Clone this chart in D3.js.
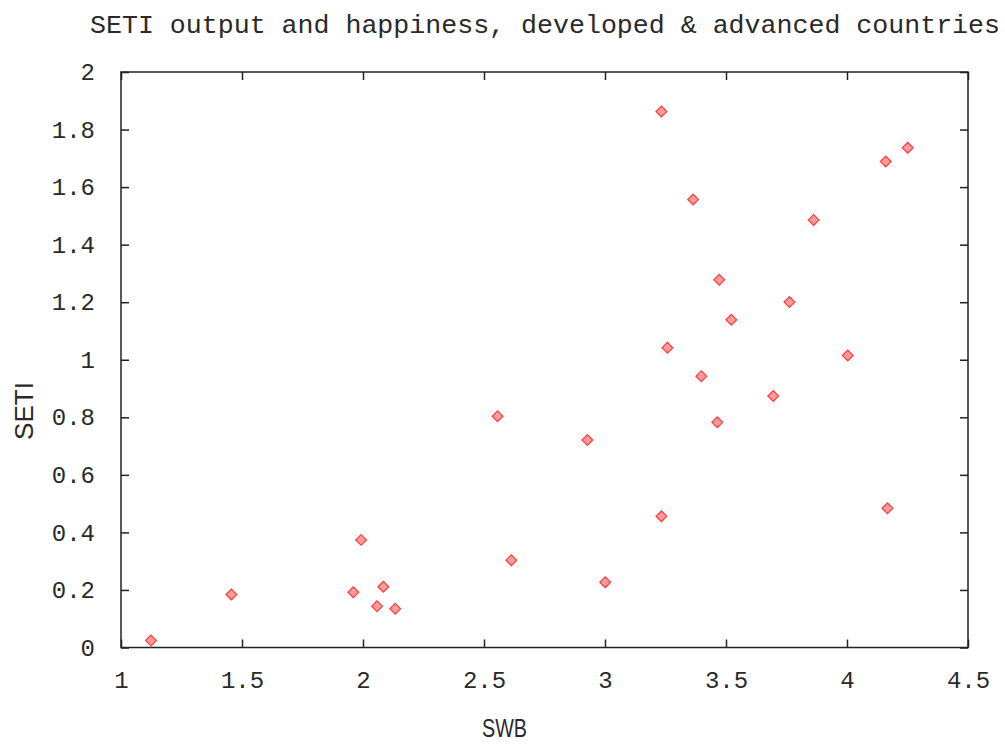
<!DOCTYPE html>
<html>
<head>
<meta charset="utf-8">
<script src="https://cdn.jsdelivr.net/npm/d3@7"></script>
<style>
  html, body { margin: 0; padding: 0; background: #fff; }
  svg { display: block; }
</style>
</head>
<body>
<svg id="chart" width="1005" height="744"></svg>
<script>
// ---- data ----
const titleText = "SETI output and happiness, developed & advanced countries";
const xLabel = "SWB";
const yLabel = "SETI";
const swb = [1.124, 1.456, 1.960, 2.084, 2.058, 2.133, 1.992, 2.556, 2.613, 2.927, 3.001,
             3.233, 3.233, 3.258, 3.364, 3.398, 3.464, 3.472, 3.522, 3.695, 3.762, 3.862,
             4.003, 4.160, 4.167, 4.251];
const seti = [0.024, 0.184, 0.192, 0.211, 0.143, 0.135, 0.374, 0.804, 0.303, 0.721, 0.227,
              1.863, 0.456, 1.042, 1.557, 0.943, 0.783, 1.278, 1.139, 0.874, 1.201, 1.486,
              1.015, 1.689, 0.484, 1.737];
const xTicks = [1, 1.5, 2, 2.5, 3, 3.5, 4, 4.5];
const yTicks = [0, 0.2, 0.4, 0.6, 0.8, 1, 1.2, 1.4, 1.6, 1.8, 2];

// ---- layout ----
const mLeft = 121, mRight = 968, mTop = 72, mBottom = 647.5;
const svg = d3.select("#chart");
const x = d3.scaleLinear().domain([1, 4.5]).range([mLeft, mRight]);
const y = d3.scaleLinear().domain([0, 2]).range([mBottom, mTop]);
const axisColor = "#222";
const textColor = "#2a2a2a";
const tickFont = "'Liberation Mono', 'DejaVu Sans Mono', monospace";

function styleAxis(g, hideLabels) {
  g.select(".domain").remove();
  g.selectAll(".tick line").attr("stroke", axisColor).attr("stroke-width", 1.5);
  g.selectAll(".tick text")
    .attr("fill", textColor)
    .style("font-family", tickFont)
    .style("font-size", "24px");
  if (hideLabels) g.selectAll(".tick text").remove();
}

// bottom axis
svg.append("g").attr("transform", `translate(0,${mBottom})`)
  .call(d3.axisBottom(x).tickValues(xTicks).tickSize(-8).tickPadding(23)
        .tickFormat(d => String(d)))
  .call(g => styleAxis(g, false));
// top mirror
svg.append("g").attr("transform", `translate(0,${mTop})`)
  .call(d3.axisTop(x).tickValues(xTicks).tickSize(-8))
  .call(g => styleAxis(g, true));
// left axis
svg.append("g").attr("transform", `translate(${mLeft},0)`)
  .call(d3.axisLeft(y).tickValues(yTicks).tickSize(-8).tickPadding(26)
        .tickFormat(d => String(d)))
  .call(g => styleAxis(g, false));
// right mirror
svg.append("g").attr("transform", `translate(${mRight},0)`)
  .call(d3.axisRight(y).tickValues(yTicks).tickSize(-8))
  .call(g => styleAxis(g, true));

// frame
svg.append("rect")
  .attr("x", mLeft).attr("y", mTop)
  .attr("width", mRight - mLeft).attr("height", mBottom - mTop)
  .attr("fill", "none").attr("stroke", axisColor).attr("stroke-width", 1.5);

// points
const pts = swb.map((v, i) => ({x: v, y: seti[i]}));
const diamond = d3.symbol(d3.symbolSquare, 58);
svg.append("g").selectAll("path").data(pts).join("path")
  .attr("d", diamond)
  .attr("transform", d => `translate(${x(d.x)},${y(d.y)}) rotate(45)`)
  .attr("fill", "#ff9a9a")
  .attr("stroke", "#ff3b3b")
  .attr("stroke-width", 1.2);

// title
svg.append("text")
  .attr("x", 90).attr("y", 33)
  .attr("textLength", 910).attr("lengthAdjust", "spacingAndGlyphs")
  .style("font-family", tickFont).style("font-size", "25px")
  .attr("fill", textColor)
  .text(titleText);

// x label
svg.append("text")
  .attr("x", 482).attr("y", 737)
  .attr("textLength", 45).attr("lengthAdjust", "spacingAndGlyphs")
  .style("font-family", "'Liberation Sans', Arial, sans-serif").style("font-size", "26px")
  .attr("fill", textColor)
  .text(xLabel);

// y label
svg.append("text")
  .attr("transform", "translate(33,440) rotate(-90)")
  .attr("textLength", 58).attr("lengthAdjust", "spacingAndGlyphs")
  .style("font-family", "'Liberation Sans', Arial, sans-serif").style("font-size", "26px")
  .attr("fill", textColor)
  .text(yLabel);
</script>
</body>
</html>
